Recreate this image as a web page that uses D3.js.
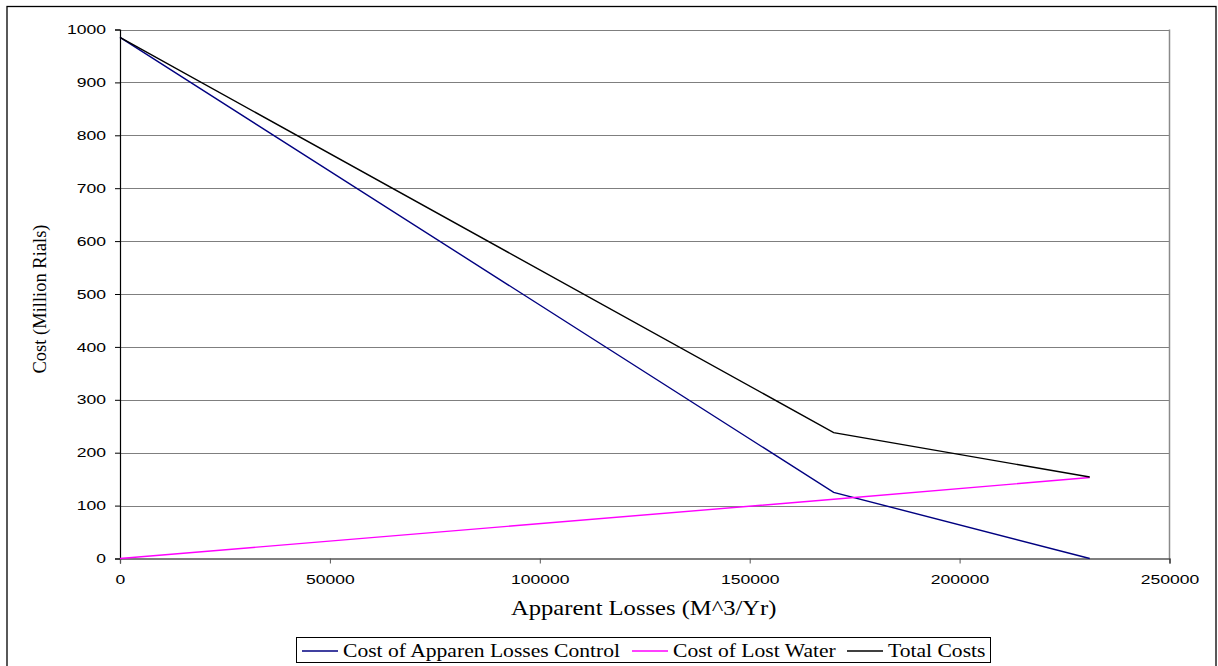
<!DOCTYPE html>
<html><head><meta charset="utf-8">
<script src="https://cdn.jsdelivr.net/npm/d3@7"></script>
<style>body{margin:0;background:#fff;}svg{display:block;}</style>
</head><body>
<svg id="c" width="1218" height="666"></svg>
<script>
const xValues = [0, 170000, 231000];
const controlCost = [985, 125, 0];
const lostWaterCost = [0, 112, 153];
const totalCost = [985, 238, 154];
const seriesNames = ["Cost of Apparen Losses Control", "Cost of Lost Water", "Total Costs"];
const seriesColors = ["#000080", "#ff00ff", "#000000"];
const xTicks = [0, 50000, 100000, 150000, 200000, 250000];
const yTicks = [0, 100, 200, 300, 400, 500, 600, 700, 800, 900, 1000];

const svg = d3.select("#c");
const L = 120, R = 1169.5, T = 29.5, B = 558.5;
const x = d3.scaleLinear().domain([0, 250000]).range([L, R]);
const y = d3.scaleLinear().domain([0, 1000]).range([B, T]);
const SANS = "Liberation Sans, Arial, sans-serif";
const SERIF = "Liberation Serif, Times New Roman, serif";

// horizontal stretch of text around its own x anchor
function stretch(sel, s) {
  sel.each(function () {
    const t = d3.select(this);
    const ax = +t.attr("x") || 0;
    t.attr("transform", `translate(${ax * (1 - s)},0) scale(${s},1)`);
  });
}

// outer border
svg.append("rect").attr("x", 7).attr("y", 6.5).attr("width", 1209).attr("height", 670)
  .attr("fill", "none").attr("stroke", "#000").attr("stroke-width", 1.3);

// gridlines
svg.append("g").selectAll("line").data(yTicks.filter(d => d > 0)).join("line")
  .attr("x1", L).attr("x2", R).attr("y1", d => Math.round(y(d)) + 0.5).attr("y2", d => Math.round(y(d)) + 0.5)
  .attr("stroke", "#7f7f7f").attr("stroke-width", 1.2);
// right plot border
svg.append("line").attr("x1", R).attr("x2", R).attr("y1", T).attr("y2", B)
  .attr("stroke", "#8a8a8a").attr("stroke-width", 1.5);

// axes
const yAxis = d3.axisLeft(y).tickValues(yTicks).tickSize(5).tickPadding(9).tickFormat(d3.format("d"));
const gy = svg.append("g").attr("transform", `translate(${L},0)`).call(yAxis);
gy.select(".domain").attr("stroke", "#000").attr("stroke-width", 1.2);
gy.selectAll("text").attr("font-family", SANS).attr("font-size", 13).attr("fill", "#000");
stretch(gy.selectAll("text"), 1.35);

const xAxis = d3.axisBottom(x).tickValues(xTicks).tickSize(5).tickPadding(11).tickFormat(d3.format("d"));
const gx = svg.append("g").attr("transform", `translate(0,${B})`).call(xAxis);
gx.select(".domain").attr("stroke", "#000").attr("stroke-width", 1.2);
gx.selectAll(".tick line").attr("stroke", "#555");
gx.selectAll("text").attr("font-family", SANS).attr("font-size", 13).attr("fill", "#000");
stretch(gx.selectAll("text"), 1.35);

// lines
const allSeries = [controlCost, lostWaterCost, totalCost];
const line = d3.line().x((d, i) => x(xValues[i])).y(d => y(d));
allSeries.forEach((s, k) => {
  svg.append("path").datum(s).attr("d", line).attr("fill", "none")
    .attr("stroke", seriesColors[k]).attr("stroke-width", 1.4);
});

// axis titles
const xt = svg.append("text").attr("x", (L + R) / 2 - 1).attr("y", 615).attr("text-anchor", "middle")
  .attr("font-family", SERIF).attr("font-size", 20.5).text("Apparent Losses (M^3/Yr)");
stretch(xt, 1.2);
svg.append("text").attr("transform", `translate(46,299) rotate(-90)`).attr("text-anchor", "middle")
  .attr("font-family", SERIF).attr("font-size", 18.5).text("Cost (Million Rials)");

// legend
const lg = svg.append("g");
lg.append("rect").attr("x", 296.5).attr("y", 637.5).attr("width", 694).attr("height", 25)
  .attr("fill", "#fff").attr("stroke", "#000").attr("stroke-width", 1);
const lx = [302, 632, 847];
seriesNames.forEach((n, k) => {
  lg.append("line").attr("x1", lx[k]).attr("x2", lx[k] + 36).attr("y1", 651).attr("y2", 651)
    .attr("stroke", seriesColors[k]).attr("stroke-width", 1.4);
  const t = lg.append("text").attr("x", lx[k] + 41).attr("y", 657)
    .attr("font-family", SERIF).attr("font-size", 18).text(n);
  stretch(t, 1.2);
});
</script>
</body></html>
